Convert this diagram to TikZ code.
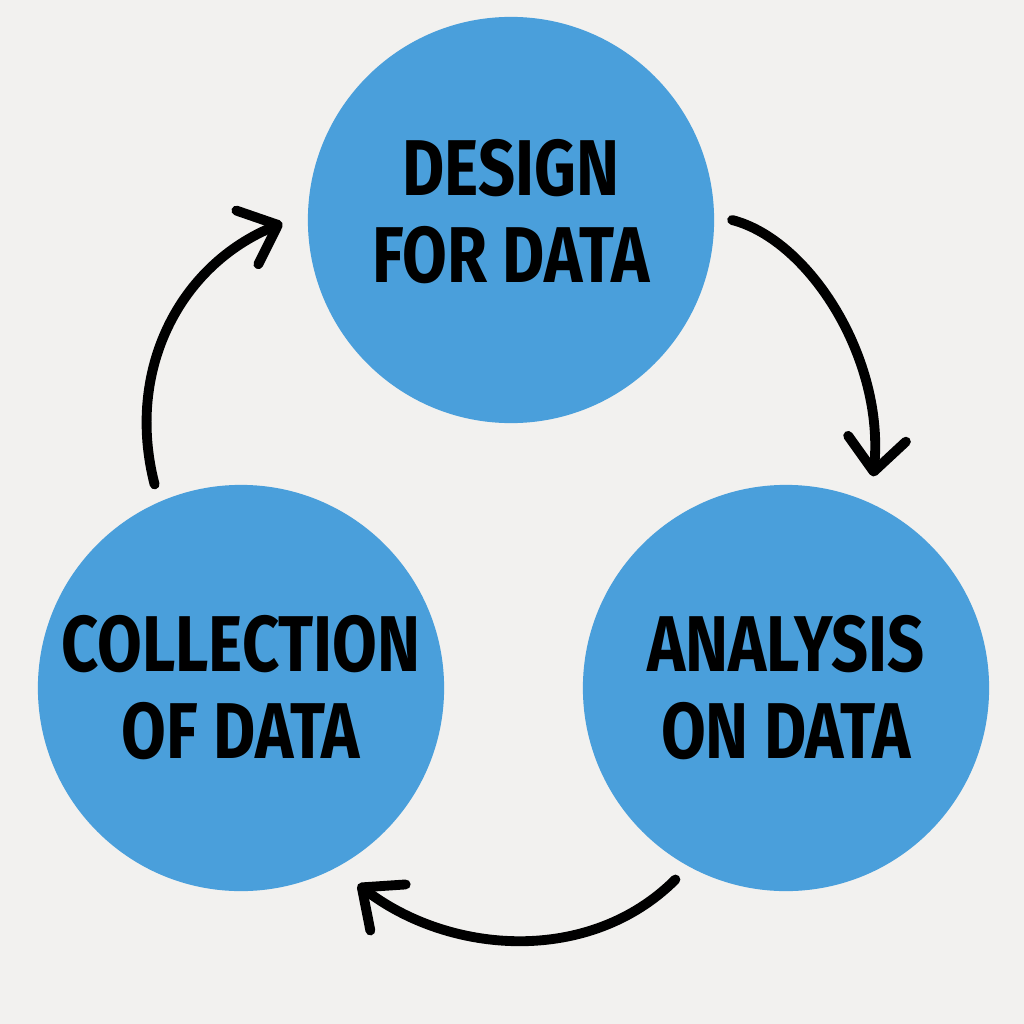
\documentclass[tikz,border=0pt]{standalone}
\usepackage{fontspec}
\setmainfont{Fira Sans}[FakeStretch=0.82]
\usetikzlibrary{positioning,arrows.meta}
\definecolor{paper}{RGB}{242,241,239}
\definecolor{stageblue}{RGB}{74,159,219}

\begin{document}
\begin{tikzpicture}[
x=0.01cm,
y=-0.01cm,
stage/.style={
circle,
fill=stageblue,
minimum size=4.06cm,
inner sep=0pt,
outer sep=0.18cm,
align=center,
font=\fontsize{22.5}{24.7}\selectfont\bfseries
},
cyclearrow/.style={
line width=2.8pt,
line cap=round,
shorten >=0.08cm,
-{Straight Barb[length=3.3mm,width=5.8mm,line cap=round,line join=round]}
}
]

\fill[paper] (0,0) rectangle (1024,1024);
\useasboundingbox (0,0) rectangle (1024,1024);

%%%%%%%%%%%%%%%%%%%%%%%%%%%%%%%%%%%%%%%%%%%%%
% Stages
%%%%%%%%%%%%%%%%%%%%%%%%%%%%%%%%%%%%%%%%%%%%%

\node[stage] (design) at (511,220)
{DESIGN\\
FOR DATA\vspace{0.16cm}};

\node[stage] (analysis) at (786,688)
{ANALYSIS\\
ON DATA};

\node[stage] (collection) at (241,688)
{COLLECTION\\
OF DATA};

%%%%%%%%%%%%%%%%%%%%%%%%%%%%%%%%%%%%%%%%%%%%%
% Cycle
%%%%%%%%%%%%%%%%%%%%%%%%%%%%%%%%%%%%%%%%%%%%%

\draw[cyclearrow] (design.0)
.. controls (810,240) and (885,360) .. (analysis.67);

\draw[cyclearrow] (analysis.240)
.. controls (590,965) and (450,955) .. (collection.300);

\draw[cyclearrow] (collection.113)
.. controls (125,370) and (180,265) .. (design.180);

\end{tikzpicture}
\end{document}
